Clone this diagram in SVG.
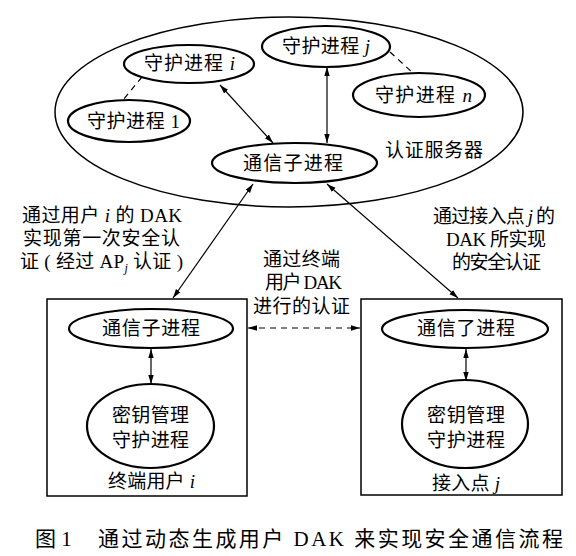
<svg xmlns="http://www.w3.org/2000/svg" width="576" height="556" viewBox="0 0 576 556">
<defs>
<marker id="ah" viewBox="0 0 10 10" refX="10" refY="5" markerWidth="9" markerHeight="9" orient="auto-start-reverse" markerUnits="userSpaceOnUse">
<path d="M0,2 L10,5 L0,8 Z" fill="#000"/>
</marker>
</defs>
<style>
.t{font-family:"Liberation Serif","Noto Sans CJK SC",serif;font-size:19px;fill:#000;text-anchor:middle}
.i{font-style:italic}
.s{fill:none;stroke:#000;stroke-width:1.5}
.n{fill:#fff;stroke:#000;stroke-width:2.2}
.c{fill:none;stroke:#000;stroke-width:1.2}
.d{fill:none;stroke:#000;stroke-width:1.2;stroke-dasharray:6,5}
.cap{font-family:"Liberation Serif","Noto Sans CJK SC",serif;font-size:21px;fill:#000}
</style>
<rect width="576" height="556" fill="#fff"/>
<g id="server">
<ellipse class="s" cx="289" cy="112" rx="234" ry="95"/>
<text class="t" x="434" y="157" textLength="98" lengthAdjust="spacing">认证服务器</text>
</g>
<g id="connectors">
<line class="d" x1="142" y1="77" x2="123" y2="100"/>
<line class="d" x1="390" y1="52" x2="413" y2="73"/>
<line class="c" x1="220" y1="85" x2="273" y2="143" marker-start="url(#ah)" marker-end="url(#ah)"/>
<line class="c" x1="327" y1="67" x2="327" y2="143" marker-start="url(#ah)" marker-end="url(#ah)"/>
<line class="c" x1="253" y1="184" x2="173" y2="298" marker-start="url(#ah)" marker-end="url(#ah)"/>
<line class="c" x1="327" y1="184" x2="458" y2="298" marker-start="url(#ah)" marker-end="url(#ah)"/>
<line class="d" x1="248" y1="328" x2="360" y2="328" marker-start="url(#ah)" marker-end="url(#ah)"/>
<line class="c" x1="151" y1="349" x2="151" y2="384" marker-start="url(#ah)" marker-end="url(#ah)"/>
<line class="c" x1="466" y1="349" x2="466" y2="381" marker-start="url(#ah)" marker-end="url(#ah)"/>
</g>
<g id="guard-i">
<ellipse class="n" cx="189" cy="64" rx="65" ry="19"/>
<text class="t" x="189.5" y="70" textLength="91" lengthAdjust="spacing">守护进程 <tspan class="i">i</tspan></text>
</g>
<g id="guard-j">
<ellipse class="n" cx="326" cy="46.5" rx="64" ry="20.5"/>
<text class="t" x="326" y="53" textLength="88" lengthAdjust="spacing">守护进程 <tspan class="i">j</tspan></text>
</g>
<g id="guard-1">
<ellipse class="n" cx="129" cy="121" rx="61" ry="21"/>
<text class="t" x="133.5" y="128" textLength="93" lengthAdjust="spacing">守护进程 1</text>
</g>
<g id="guard-n">
<ellipse class="n" cx="419" cy="95" rx="66" ry="22"/>
<text class="t" x="423.5" y="102" textLength="97" lengthAdjust="spacing">守护进程 <tspan class="i">n</tspan></text>
</g>
<g id="comm-server">
<ellipse class="n" cx="294.5" cy="163" rx="82.5" ry="20"/>
<text class="t" x="293" y="170" textLength="100" lengthAdjust="spacing">通信子进程</text>
</g>
<g id="label-left">
<text class="t" x="102" y="222" textLength="160" lengthAdjust="spacing">通过用户 <tspan class="i">i</tspan> 的 DAK</text>
<text class="t" x="101.5" y="245" textLength="157" lengthAdjust="spacing">实现第一次安全认</text>
<text class="t" x="101.5" y="268" textLength="163" lengthAdjust="spacing">证 ( 经过 AP<tspan class="i" font-size="12" dy="4">j</tspan><tspan dy="-4"> 认证 )</tspan></text>
</g>
<g id="label-mid">
<text class="t" x="301.5" y="266" textLength="77" lengthAdjust="spacing">通过终端</text>
<text class="t" x="303.5" y="289" textLength="77" lengthAdjust="spacing">用户 DAK</text>
<text class="t" x="301.5" y="313" textLength="97" lengthAdjust="spacing">进行的认证</text>
</g>
<g id="label-right">
<text class="t" x="494" y="223" textLength="122" lengthAdjust="spacing">通过接入点 <tspan class="i">j</tspan> 的</text>
<text class="t" x="496" y="246" textLength="100" lengthAdjust="spacing">DAK 所实现</text>
<text class="t" x="496.5" y="269" textLength="89" lengthAdjust="spacing">的安全认证</text>
</g>
<g id="terminal">
<rect class="s" x="47" y="299" width="200" height="197"/>
<text class="t" x="151.5" y="488" textLength="87" lengthAdjust="spacing">终端用户 <tspan class="i">i</tspan></text>
</g>
<g id="terminal-comm">
<ellipse class="n" cx="151" cy="328.5" rx="82" ry="19.5"/>
<text class="t" x="151" y="335" textLength="98" lengthAdjust="spacing">通信子进程</text>
</g>
<g id="terminal-key">
<ellipse class="n" cx="150.5" cy="426" rx="63.5" ry="42"/>
<text class="t" x="150.5" y="422" textLength="77" lengthAdjust="spacing">密钥管理</text>
<text class="t" x="150.5" y="447" textLength="77" lengthAdjust="spacing">守护进程</text>
</g>
<g id="ap">
<rect class="s" x="361" y="299" width="201" height="196"/>
<text class="t" x="466" y="490" textLength="68" lengthAdjust="spacing">接入点 <tspan class="i">j</tspan></text>
</g>
<g id="ap-comm">
<ellipse class="n" cx="465" cy="329" rx="83" ry="19"/>
<text class="t" x="466" y="335" textLength="98" lengthAdjust="spacing">通信了进程</text>
</g>
<g id="ap-key">
<ellipse class="n" cx="465" cy="424" rx="63" ry="44"/>
<text class="t" x="466" y="422" textLength="78" lengthAdjust="spacing">密钥管理</text>
<text class="t" x="466" y="447" textLength="78" lengthAdjust="spacing">守护进程</text>
</g>
<g id="caption">
<text class="cap" x="35" y="546">图 1</text>
<text class="cap" x="98" y="546" textLength="465" lengthAdjust="spacing">通过动态生成用户 DAK 来实现安全通信流程</text>
</g>
</svg>
